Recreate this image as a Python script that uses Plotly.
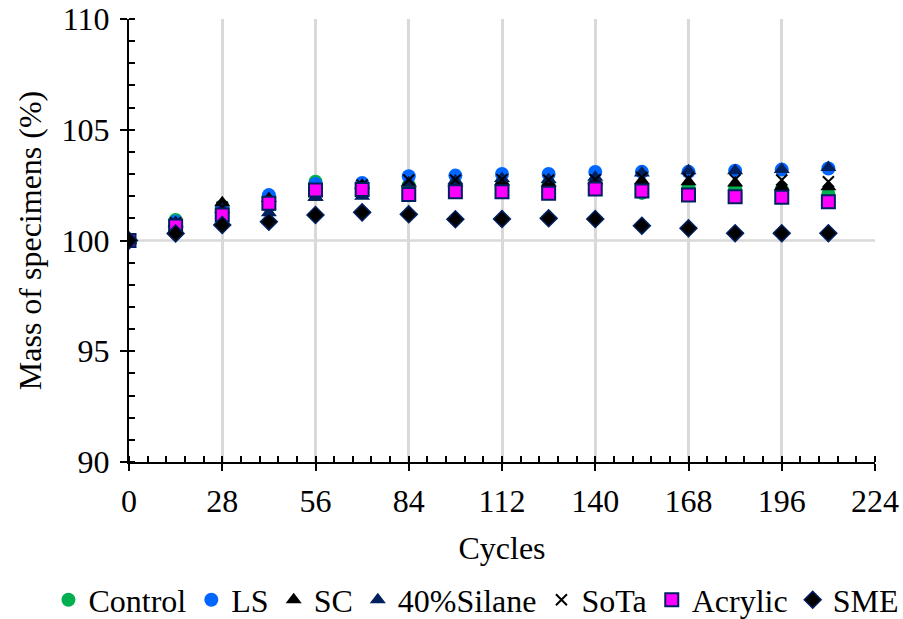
import plotly.graph_objects as go

cycles = [0, 14, 28, 42, 56, 70, 84, 98, 112, 126, 140, 154, 168, 182, 196, 210]

control = [100, 100.93, 101.55, 101.9, 102.65, 102.45, 102.5, 102.5, 102.55, 102.55, 102.55, 102.15, 102.4, 102.35, 102.3, 102.1]
ls = [100, 100.85, 101.5, 102.05, 102.55, 102.6, 102.9, 102.93, 103.0, 103.0, 103.09, 103.1, 103.1, 103.15, 103.2, 103.25]
sc = [100, 100.8, 101.7, 101.9, 101.95, 102.5, 102.6, 102.6, 102.65, 102.6, 102.7, 102.7, 102.65, 102.6, 102.43, 102.43]
silane40 = [100, 100.75, 101.4, 101.25, 101.95, 102.0, 102.6, 102.7, 102.8, 102.75, 102.85, 103.05, 103.15, 103.15, 103.2, 103.3]
sota = [100, 100.8, 101.5, 101.6, 102.2, 102.5, 102.73, 102.73, 102.75, 102.73, 102.75, 102.85, 102.8, 102.75, 102.73, 102.65]
acrylic = [100, 100.65, 101.15, 101.68, 102.28, 102.3, 102.08, 102.2, 102.2, 102.13, 102.33, 102.23, 102.05, 101.98, 101.95, 101.75]
sme = [100, 100.32, 100.7, 100.85, 101.15, 101.27, 101.18, 100.96, 100.97, 101.0, 100.97, 100.67, 100.55, 100.33, 100.33, 100.33]

x_ticks = [0, 28, 56, 84, 112, 140, 168, 196, 224]
y_ticks = [90, 95, 100, 105, 110]

NAVY = "#002060"
series = [
    ("Control", control, dict(symbol="circle", size=14, color="#00B050", line=dict(width=0))),
    ("LS", ls, dict(symbol="circle", size=14, color="#0066FF", line=dict(width=0))),
    ("SC", sc, dict(symbol="triangle-up", size=14, color="#000000", line=dict(width=0))),
    ("40%Silane", silane40, dict(symbol="triangle-up", size=14, color=NAVY, line=dict(width=0))),
    ("SoTa", sota, dict(symbol="x-thin", size=11, color="#000000", line=dict(width=2, color="#000000"))),
    ("Acrylic", acrylic, dict(symbol="square", size=13, color="#FF00FF", line=dict(width=2, color=NAVY))),
    ("SME", sme, dict(symbol="diamond", size=13, color="#000000", line=dict(width=1.5, color=NAVY))),
]

fig = go.Figure()
for name, vals, marker in series:
    fig.add_trace(go.Scatter(x=cycles, y=vals, mode="markers", name=name, marker=marker))

fig.add_shape(type="line", xref="paper", yref="y", x0=0, x1=1, y0=100, y1=100,
              line=dict(color="#D9D9D9", width=2.5), layer="below")

font_family = "Liberation Serif"
fig.update_layout(
    width=903, height=619,
    margin=dict(l=129, r=28, t=19, b=157, autoexpand=False),
    paper_bgcolor="white", plot_bgcolor="white",
    font=dict(family=font_family, size=32, color="black"),
    showlegend=True,
    legend=dict(orientation="h",
                x=-0.108, xanchor="left", y=-0.3115, yanchor="middle",
                font=dict(size=32), itemwidth=30, tracegroupgap=0,
                bgcolor="rgba(0,0,0,0)"),
)
fig.update_xaxes(
    range=[0, 224], tickvals=x_ticks, ticktext=[str(t) for t in x_ticks],
    automargin=False,
    showline=True, linecolor="black", linewidth=2,
    ticks="outside", ticklen=7, tickwidth=2, tickcolor="black",
    ticklabelstandoff=3,
    showgrid=True, gridcolor="#D9D9D9", gridwidth=2.5, zeroline=False,
    minor=dict(dtick=5.6, tick0=0, ticks="inside", ticklen=6, tickwidth=1.5, tickcolor="black", showgrid=False),
    title=dict(text="Cycles", font=dict(size=32), standoff=18),
    tickfont=dict(size=32),
)
fig.update_yaxes(
    range=[90, 110], tickvals=y_ticks, ticktext=[str(t) for t in y_ticks],
    automargin=False,
    showline=True, linecolor="black", linewidth=2,
    ticks="outside", ticklen=7, tickwidth=2, tickcolor="black",
    ticklabelstandoff=4,
    showgrid=False, zeroline=False,
    minor=dict(dtick=1, tick0=90, ticks="inside", ticklen=6, tickwidth=1.5, tickcolor="black", showgrid=False),
    title=dict(text="Mass of specimens (%)", font=dict(size=32), standoff=10),
    tickfont=dict(size=32),
)

fig.write_html("out.html", config={"displayModeBar": False},
               post_script="document.body.style.margin='0';")
